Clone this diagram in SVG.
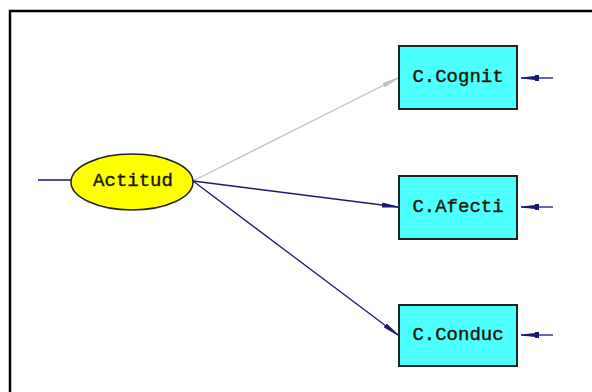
<svg xmlns="http://www.w3.org/2000/svg" width="592" height="392" viewBox="0 0 592 392">
<style>
.box{fill:#4dffff;stroke:#222;stroke-width:2}
.lbl{font-family:"Liberation Mono",monospace;font-size:19px;fill:#1a1a00;stroke:#1a1a00;stroke-width:0.4;text-anchor:middle;dominant-baseline:central}
.nv{stroke:#1a1a6e;stroke-width:1.3;fill:none}
.gr{stroke:#c0c0c0;stroke-width:1.3;fill:none}
</style>
<defs>
<marker id="an" viewBox="0 0 16 6" refX="16" refY="3" markerWidth="16" markerHeight="6" markerUnits="userSpaceOnUse" orient="auto"><path d="M0,0.5 L16,2.5 L16,3.5 L0,5.5 Z" fill="#1a1a6e"/></marker>
<marker id="ag" viewBox="0 0 16 6" refX="16" refY="3" markerWidth="16" markerHeight="6" markerUnits="userSpaceOnUse" orient="auto"><path d="M0,0.5 L16,2.5 L16,3.5 L0,5.5 Z" fill="#c0c0c0"/></marker>
<marker id="ae" viewBox="0 0 18 7" refX="18" refY="3.5" markerWidth="18" markerHeight="7" markerUnits="userSpaceOnUse" orient="auto"><path d="M0,0.5 L4,0.5 L4,1.5 L18,3 L18,4 L4,5.5 L4,6.5 L0,6.5 Z" fill="#1a1a6e"/></marker>
</defs>
<rect width="592" height="392" fill="#fff"/>
<path d="M10,392 V11 H592" fill="none" stroke="#000" stroke-width="2.5"/>
<g id="connectors">
<line class="nv" x1="38" y1="180" x2="71" y2="180"/>
<line class="gr" x1="193" y1="181" x2="398" y2="78" marker-end="url(#ag)"/>
<line class="nv" x1="193" y1="181" x2="398" y2="207" marker-end="url(#an)"/>
<line class="nv" x1="193" y1="181" x2="398" y2="335" marker-end="url(#an)"/>
<line class="nv" x1="553" y1="78" x2="521" y2="78" marker-end="url(#ae)"/>
<line class="nv" x1="553" y1="207" x2="521" y2="207" marker-end="url(#ae)"/>
<line class="nv" x1="553" y1="335" x2="521" y2="335" marker-end="url(#ae)"/>
</g>
<g id="actitud">
<ellipse cx="132" cy="182" rx="61" ry="28" fill="#ffff00" stroke="#222" stroke-width="1.5"/>
<text class="lbl" x="133" y="181">Actitud</text>
</g>
<g id="cognit">
<rect class="box" x="399" y="46" width="118" height="63"/>
<text class="lbl" x="458" y="77">C.Cognit</text>
</g>
<g id="afecti">
<rect class="box" x="399" y="176" width="118" height="63"/>
<text class="lbl" x="458" y="207">C.Afecti</text>
</g>
<g id="conduc">
<rect class="box" x="399" y="305" width="118" height="61"/>
<text class="lbl" x="458" y="335">C.Conduc</text>
</g>
</svg>
